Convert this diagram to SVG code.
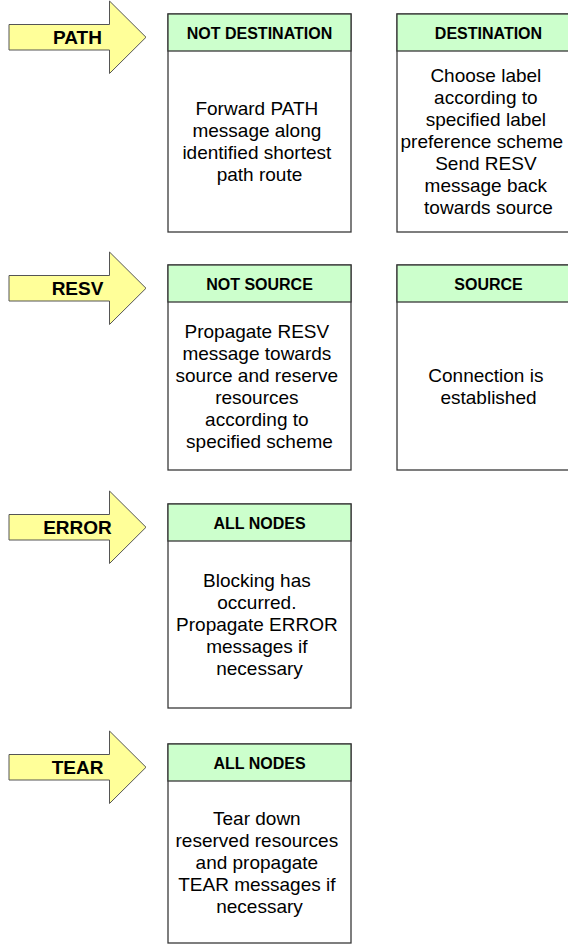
<svg xmlns="http://www.w3.org/2000/svg" width="568" height="946" viewBox="0 0 568 946">
<style>
.bg{fill:#ffffff}
.arrow{fill:#ffff99;stroke:#555555;stroke-width:1}
.alabel{font-family:"Liberation Sans",Arial,sans-serif;font-weight:bold;font-size:19px;fill:#000;text-anchor:middle}
.box{fill:#ffffff;stroke:#3a3a3a;stroke-width:1.3}
.head{fill:#ccffcc;stroke:#3a3a3a;stroke-width:1.3}
.htext{font-family:"Liberation Sans",Arial,sans-serif;font-weight:bold;font-size:16px;fill:#000;text-anchor:middle}
.btext{font-family:"Liberation Sans",Arial,sans-serif;font-size:19px;fill:#000;text-anchor:middle}
</style>
<rect class="bg" x="0" y="0" width="568" height="946"/>
<g id="connectors">
  <g id="arrow-path">
    <polygon class="arrow" points="9,24.5 109.5,24.5 109.5,1 146,37.25 109.5,73.5 109.5,50 9,50"/>
    <text class="alabel" x="77.5" y="44">PATH</text>
  </g>
  <g id="arrow-resv">
    <polygon class="arrow" points="9,275.5 109.5,275.5 109.5,252 146,288.25 109.5,324.5 109.5,301 9,301"/>
    <text class="alabel" x="77.5" y="295">RESV</text>
  </g>
  <g id="arrow-error">
    <polygon class="arrow" points="9,514.5 109.5,514.5 109.5,491 146,527.25 109.5,563.5 109.5,540 9,540"/>
    <text class="alabel" x="77.5" y="534">ERROR</text>
  </g>
  <g id="arrow-tear">
    <polygon class="arrow" points="9,754.5 109.5,754.5 109.5,731 146,767.25 109.5,803.5 109.5,780 9,780"/>
    <text class="alabel" x="77.5" y="774">TEAR</text>
  </g>
</g>
<g id="not-destination">
  <rect class="box" x="168" y="14" width="183" height="218"/>
  <rect class="head" x="168" y="14" width="183" height="37"/>
  <text class="htext" x="259.5" y="38.5">NOT DESTINATION</text>
  <text class="btext">
    <tspan x="259.5" y="115">Forward PATH</tspan>
    <tspan x="259.5" y="137">message along</tspan>
    <tspan x="259.5" y="159">identified shortest</tspan>
    <tspan x="259.5" y="181">path route</tspan>
  </text>
</g>
<g id="destination">
  <rect class="box" x="397" y="14" width="183" height="218"/>
  <rect class="head" x="397" y="14" width="183" height="37"/>
  <text class="htext" x="488.5" y="38.5">DESTINATION</text>
  <text class="btext">
    <tspan x="488.5" y="82">Choose label</tspan>
    <tspan x="488.5" y="104">according to</tspan>
    <tspan x="488.5" y="126">specified label</tspan>
    <tspan x="484.5" y="148">preference scheme</tspan>
    <tspan x="488.5" y="170">Send RESV</tspan>
    <tspan x="488.5" y="192">message back</tspan>
    <tspan x="488.5" y="214">towards source</tspan>
  </text>
</g>
<g id="not-source">
  <rect class="box" x="168" y="265" width="183" height="205"/>
  <rect class="head" x="168" y="265" width="183" height="37"/>
  <text class="htext" x="259.5" y="289.5">NOT SOURCE</text>
  <text class="btext">
    <tspan x="259.5" y="338">Propagate RESV</tspan>
    <tspan x="259.5" y="360">message towards</tspan>
    <tspan x="259.5" y="382">source and reserve</tspan>
    <tspan x="259.5" y="404">resources</tspan>
    <tspan x="259.5" y="426">according to</tspan>
    <tspan x="259.5" y="448">specified scheme</tspan>
  </text>
</g>
<g id="source">
  <rect class="box" x="397" y="265" width="183" height="205"/>
  <rect class="head" x="397" y="265" width="183" height="37"/>
  <text class="htext" x="488.5" y="289.5">SOURCE</text>
  <text class="btext">
    <tspan x="488.5" y="382">Connection is</tspan>
    <tspan x="488.5" y="404">established</tspan>
  </text>
</g>
<g id="all-nodes-error">
  <rect class="box" x="168" y="504" width="183" height="204"/>
  <rect class="head" x="168" y="504" width="183" height="37"/>
  <text class="htext" x="259.5" y="528.5">ALL NODES</text>
  <text class="btext">
    <tspan x="259.5" y="587">Blocking has</tspan>
    <tspan x="259.5" y="609">occurred.</tspan>
    <tspan x="259.5" y="631">Propagate ERROR</tspan>
    <tspan x="259.5" y="653">messages if</tspan>
    <tspan x="259.5" y="675">necessary</tspan>
  </text>
</g>
<g id="all-nodes-tear">
  <rect class="box" x="168" y="744" width="183" height="199"/>
  <rect class="head" x="168" y="744" width="183" height="37"/>
  <text class="htext" x="259.5" y="768.5">ALL NODES</text>
  <text class="btext">
    <tspan x="259.5" y="825">Tear down</tspan>
    <tspan x="259.5" y="847">reserved resources</tspan>
    <tspan x="259.5" y="869">and propagate</tspan>
    <tspan x="259.5" y="891">TEAR messages if</tspan>
    <tspan x="259.5" y="913">necessary</tspan>
  </text>
</g>
</svg>
